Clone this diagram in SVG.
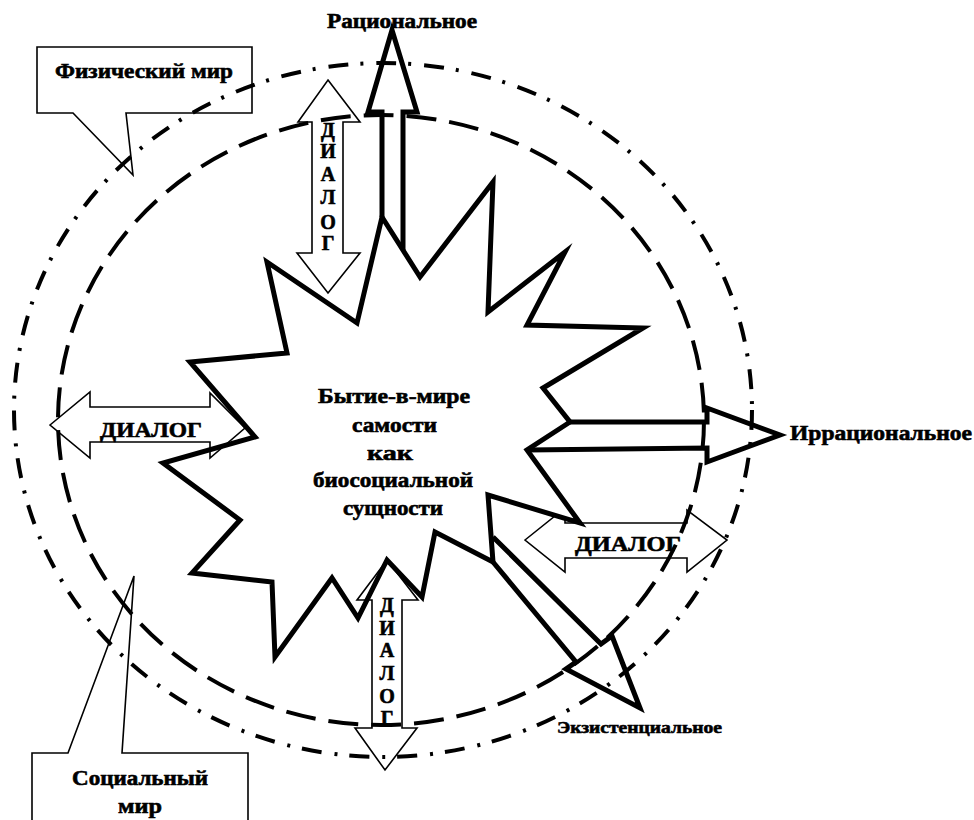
<svg xmlns="http://www.w3.org/2000/svg" width="974" height="820" viewBox="0 0 974 820">
<style>
text{font-family:"Liberation Serif","Times New Roman",serif;font-weight:bold;fill:#000;stroke:#000;stroke-width:0.6}
.lbl{font-size:21px}
.sm{font-size:17px}
.dlg{fill:#fff;stroke:#000;stroke-width:1.6;stroke-linejoin:miter}
.dlgn{fill:none;stroke:#000;stroke-width:1.6;stroke-linejoin:miter}
.star{fill:#fff;stroke:#000;stroke-width:5;stroke-linejoin:miter;stroke-miterlimit:10}
.arr{fill:none;stroke:#000;stroke-width:5;stroke-linejoin:miter;stroke-miterlimit:10}
.dash{fill:none;stroke:#000;stroke-width:4;stroke-dasharray:30 13}
.dashdot{fill:none;stroke:#000;stroke-width:4;stroke-dasharray:20 12 3 13}
.call{fill:none;stroke:#000;stroke-width:1.6}
.vt{font-size:20px;text-anchor:middle}
</style>
<rect width="974" height="820" fill="#fff"/>

<g id="dialog-right">
<path class="dlg" d="M525,540 L565,508 L565,523 L687,523 L687,510 L727,540 L687,572 L687,558 L565,558 L565,572 Z"/>
<text class="lbl" x="575" y="551" textLength="106" lengthAdjust="spacingAndGlyphs">ДИАЛОГ</text>
</g>

<g id="core">
<path class="star" d="M357,323 L382,217 L420,277 L493,182 L488,312 L565,252 L527,325 L643,328 L543,388 L570,422 L527,450 L580,523 L488,495 L493,562 L435,532 L422,597 L387,560 L358,618 L332,578 L275,657 L272,582 L192,573 L240,520 L163,463 L255,437 L190,362 L287,353 L267,262 Z"/>
<text class="lbl" x="318" y="403" textLength="152" lengthAdjust="spacingAndGlyphs">Бытие-в-мире</text>
<text class="lbl" x="352" y="432" textLength="85" lengthAdjust="spacingAndGlyphs">самости</text>
<text class="lbl" x="367" y="460" textLength="46" lengthAdjust="spacingAndGlyphs">как</text>
<text class="lbl" x="313" y="487" textLength="160" lengthAdjust="spacingAndGlyphs">биосоциальной</text>
<text class="lbl" x="343" y="515" textLength="100" lengthAdjust="spacingAndGlyphs">сущности</text>
</g>

<g id="connectors">
<polyline id="arrow-rational" class="arr" points="382,217 382,112 368,112 392,30 417,112 403,112 403,250"/>
<polyline id="arrow-irrational" class="arr" points="570,422 707,422 707,408 780,435 707,462 707,448 527,450"/>
<polyline id="arrow-existential" class="arr" points="493,537 601,644 612,636 640,708 566,669 576,662 493,562"/>
</g>

<g id="physical-world-circle">
<ellipse class="dashdot" cx="383" cy="410" rx="369" ry="347"/>
</g>
<g id="social-world-circle">
<ellipse class="dash" cx="381" cy="420" rx="323" ry="305"/>
</g>

<g id="dialog-left">
<path class="dlgn" d="M50,425 L90,392 L90,407 L210,407 L210,393 L245,428 L210,458 L210,442 L90,442 L90,458 Z"/>
<text class="lbl" x="100" y="437" textLength="102" lengthAdjust="spacingAndGlyphs">ДИАЛОГ</text>
</g>

<g id="dialog-top">
<path class="dlgn" d="M328,80 L360,122 L343,122 L343,253 L360,253 L328,293 L297,253 L312,253 L312,122 L298,122 Z"/>
<text class="vt"><tspan x="328" y="137">Д</tspan><tspan x="328" y="158">И</tspan><tspan x="328" y="181">А</tspan><tspan x="328" y="204">Л</tspan><tspan x="328" y="229">О</tspan><tspan x="328" y="250">Г</tspan></text>
</g>

<g id="dialog-bottom">
<path class="dlgn" d="M387,560 L418,600 L402,600 L402,728 L417,728 L385,770 L355,728 L372,728 L372,600 L357,600 Z"/>
<text class="vt"><tspan x="387" y="612">Д</tspan><tspan x="387" y="635">И</tspan><tspan x="387" y="657">А</tspan><tspan x="387" y="680">Л</tspan><tspan x="387" y="703">О</tspan><tspan x="387" y="725">Г</tspan></text>
</g>

<g id="label-rational">
<text class="lbl" x="327" y="28" textLength="150" lengthAdjust="spacingAndGlyphs">Рациональное</text>
</g>
<g id="label-irrational">
<text class="lbl" x="790" y="440" textLength="182" lengthAdjust="spacingAndGlyphs">Иррациональное</text>
</g>
<g id="label-existential">
<text class="sm" x="557" y="733" textLength="165" lengthAdjust="spacingAndGlyphs">Экзистенциальное</text>
</g>

<g id="callout-physical">
<path class="call" d="M73,113 L37,113 L37,47 L252,47 L252,113 L126,113 L133,175 Z"/>
<text class="lbl" x="55" y="78" textLength="178" lengthAdjust="spacingAndGlyphs">Физический мир</text>
</g>

<g id="callout-social">
<path class="call" d="M32,830 L32,753 L68,753 L134,576 L122,753 L248,753 L248,830"/>
<text class="lbl" x="72" y="785" textLength="136" lengthAdjust="spacingAndGlyphs">Социальный</text>
<text class="lbl" x="118" y="813" textLength="44" lengthAdjust="spacingAndGlyphs">мир</text>
</g>
</svg>
